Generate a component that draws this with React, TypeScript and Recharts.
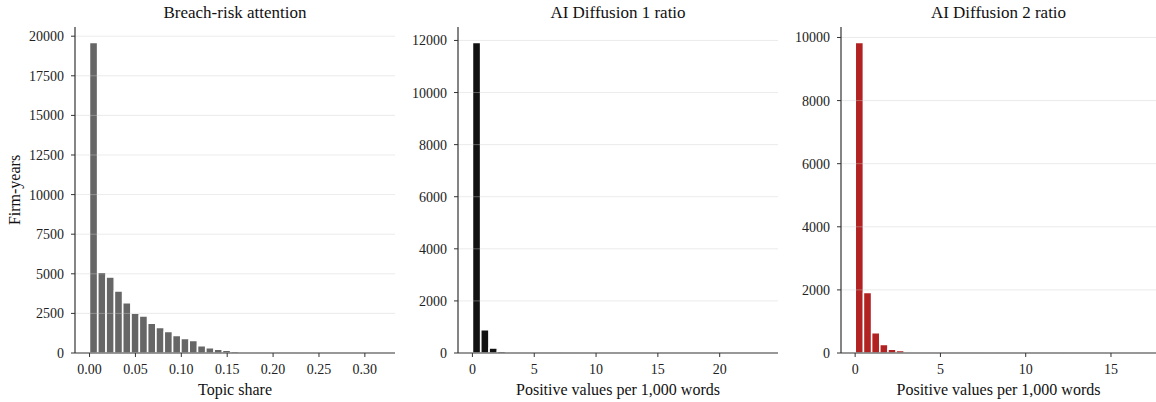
import { Bar, BarChart, Label, ReferenceLine, XAxis, YAxis } from "recharts";

const FONT = '"Liberation Serif", "Times New Roman", serif';

// histogram ranges (min, max of the plotted values) and counts per bin (35 bins)
const breachRange = [0, 0.317];
const breachCounts = [
  19600, 5090, 4790, 3912, 3163, 2503, 2338, 1878, 1601, 1350, 1096, 905, 780, 455, 330, 240, 167, 115,
  30, 18, 12, 8, 5, 4, 3, 2, 2, 1, 1, 1, 0, 1, 0, 0, 1,
];
const breachXTicks = [0, 0.05, 0.1, 0.15, 0.2, 0.25, 0.3];
const breachYTicks = [0, 2500, 5000, 7500, 10000, 12500, 15000, 17500, 20000];

const diffusion1Range = [0.01, 23.54];
const diffusion1Counts = [
  11920, 892, 188, 70, 52, 24, 14, 9, 6, 4, 3, 2, 2, 1, 1, 1, 1, 0, 1, 0, 0, 1, 0, 0, 0, 1, 0, 0, 0, 0,
  0, 0, 0, 0, 1,
];
const diffusion1XTicks = [0, 5, 10, 15, 20];
const diffusion1YTicks = [0, 2000, 4000, 6000, 8000, 10000, 12000];

const diffusion2Range = [0.01, 16.8];
const diffusion2Counts = [
  9840, 1917, 640, 270, 120, 80, 38, 18, 10, 6, 4, 3, 2, 1, 1, 1, 0, 1, 0, 0, 1, 0, 0, 0, 0, 1, 0, 0, 0,
  0, 0, 0, 0, 0, 1,
];
const diffusion2XTicks = [0, 5, 10, 15];
const diffusion2YTicks = [0, 2000, 4000, 6000, 8000, 10000];

function toBins(range: number[], counts: number[]) {
  const binWidth = (range[1] - range[0]) / counts.length;
  return counts.map((count, i) => ({ x: range[0] + (i + 0.5) * binWidth, count }));
}

const CHART_HEIGHT = 402;
const MARGIN_TOP = 27;
const X_AXIS_HEIGHT = 49;

interface PanelProps {
  title: string;
  xLabel: string;
  yLabel?: string;
  color: string;
  range: number[];
  counts: number[];
  xTicks: number[];
  yTicks: number[];
  xFormat: (v: number) => string;
  left: number;
  width: number;
  axisWidth: number;
  marginRight: number;
}

function HistPanel({
  title,
  xLabel,
  yLabel,
  color,
  range,
  counts,
  xTicks,
  yTicks,
  xFormat,
  left,
  width,
  axisWidth,
  marginRight,
}: PanelProps) {
  const data = toBins(range, counts);
  const span = range[1] - range[0];
  const xDomain = [range[0] - span * 0.05, range[1] + span * 0.05];
  const yMax = Math.max(...counts) * 1.05;
  const plotWidth = width - axisWidth - marginRight;

  const tickStyle = { fill: "#222", fontSize: 14, fontFamily: FONT };

  return (
    <div style={{ position: "absolute", left, top: 0, width, height: CHART_HEIGHT }}>
      <div
        style={{
          position: "absolute",
          left: axisWidth,
          width: plotWidth,
          top: 4,
          textAlign: "center",
          fontFamily: FONT,
          fontSize: 17,
          lineHeight: "17px",
          color: "#111",
          whiteSpace: "nowrap",
        }}
      >
        {title}
      </div>
      <BarChart
        width={width}
        height={CHART_HEIGHT}
        data={data}
        margin={{ top: MARGIN_TOP, right: marginRight, bottom: 0, left: 0 }}
        barCategoryGap={0}
        barGap={0}
      >
        <XAxis
          type="number"
          dataKey="x"
          domain={xDomain}
          allowDataOverflow
          ticks={xTicks}
          interval={0}
          tickFormatter={xFormat}
          height={X_AXIS_HEIGHT}
          tick={tickStyle}
          tickSize={4}
          tickMargin={7}
          axisLine={{ stroke: "#333", strokeWidth: 1.2 }}
          tickLine={{ stroke: "#333", strokeWidth: 1 }}
        >
          <Label
            value={xLabel}
            position="insideBottom"
            offset={7}
            style={{ fill: "#111", fontSize: 16, fontFamily: FONT }}
          />
        </XAxis>
        <YAxis
          type="number"
          domain={[0, yMax]}
          allowDataOverflow
          ticks={yTicks}
          interval={0}
          width={axisWidth}
          tick={tickStyle}
          tickSize={4}
          tickMargin={7}
          axisLine={{ stroke: "#333", strokeWidth: 1.2 }}
          tickLine={{ stroke: "#333", strokeWidth: 1 }}
        >
          {yLabel ? (
            <Label
              content={(props: any) => {
                const vb = props.viewBox || { x: 0, y: 0, width: 0, height: 0 };
                const cx = vb.x + 14.5;
                const cy = vb.y + vb.height / 2;
                return (
                  <text
                    x={cx}
                    y={cy}
                    transform={`rotate(-90, ${cx}, ${cy})`}
                    textAnchor="middle"
                    dominantBaseline="central"
                    fill="#111"
                    fontSize={16}
                    fontFamily={FONT}
                  >
                    {yLabel}
                  </text>
                );
              }}
            />
          ) : null}
        </YAxis>
        <Bar dataKey="count" fill={color} stroke="#fff" strokeWidth={1.4} isAnimationActive={false} />
        {yTicks
          .filter((t) => t > 0)
          .map((t) => (
            <ReferenceLine key={t} y={t} stroke="#cccccc" strokeOpacity={0.4} strokeWidth={1} />
          ))}
      </BarChart>
    </div>
  );
}

export default function App() {
  return (
    <div style={{ position: "absolute", left: 0, top: 0, width: 1156, height: 402, background: "#fff" }}>
      <HistPanel
        title="Breach-risk attention"
        xLabel="Topic share"
        yLabel="Firm-years"
        color="#666666"
        range={breachRange}
        counts={breachCounts}
        xTicks={breachXTicks}
        yTicks={breachYTicks}
        xFormat={(v) => v.toFixed(2)}
        left={0}
        width={400}
        axisWidth={75}
        marginRight={5}
      />
      <HistPanel
        title="AI Diffusion 1 ratio"
        xLabel="Positive values per 1,000 words"
        color="#111111"
        range={diffusion1Range}
        counts={diffusion1Counts}
        xTicks={diffusion1XTicks}
        yTicks={diffusion1YTicks}
        xFormat={(v) => String(v)}
        left={400}
        width={380}
        axisWidth={58}
        marginRight={2}
      />
      <HistPanel
        title="AI Diffusion 2 ratio"
        xLabel="Positive values per 1,000 words"
        color="#b22222"
        range={diffusion2Range}
        counts={diffusion2Counts}
        xTicks={diffusion2XTicks}
        yTicks={diffusion2YTicks}
        xFormat={(v) => String(v)}
        left={780}
        width={376}
        axisWidth={61}
        marginRight={0}
      />
    </div>
  );
}
